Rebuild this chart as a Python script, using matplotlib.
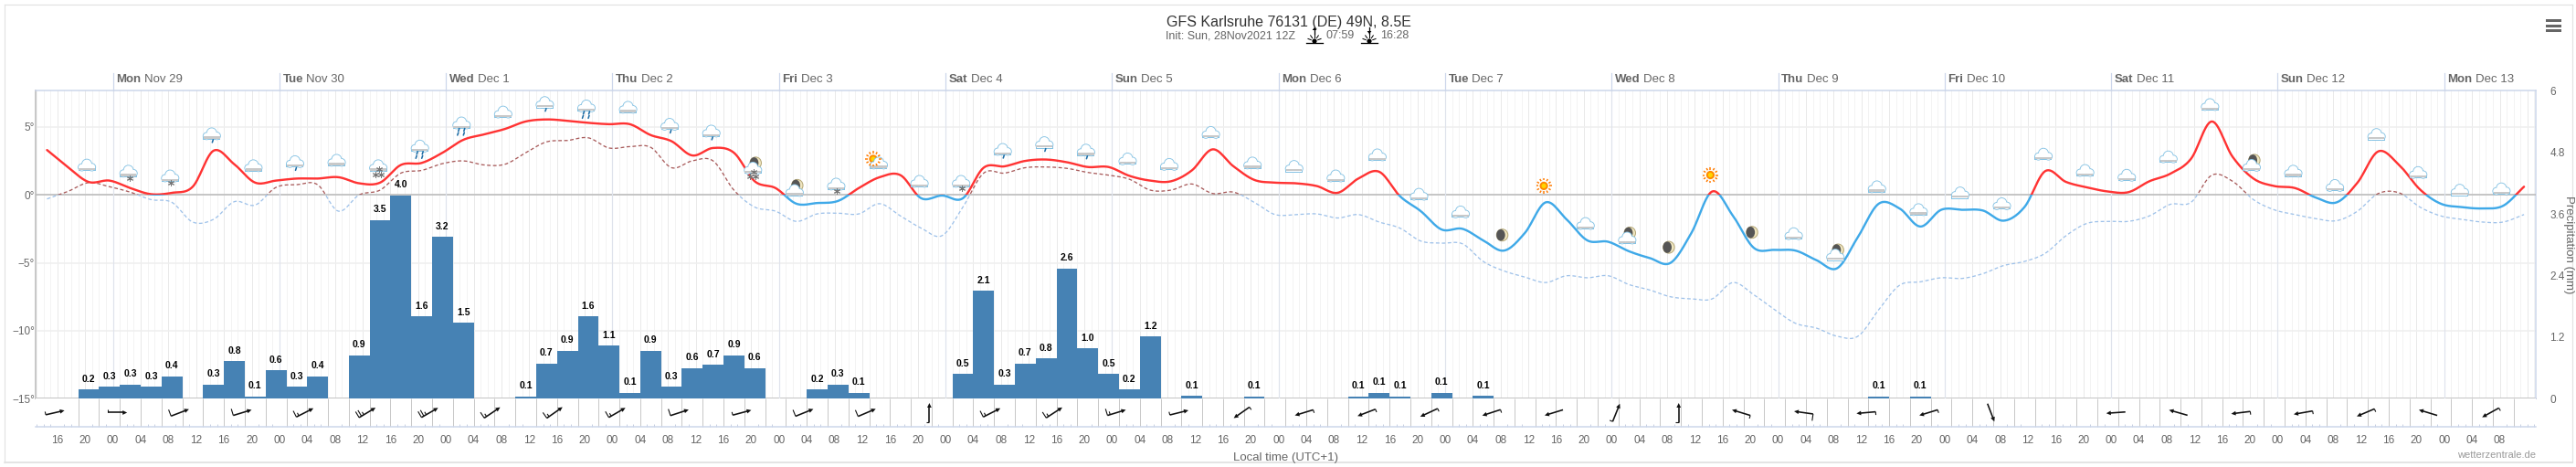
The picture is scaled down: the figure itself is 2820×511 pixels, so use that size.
import matplotlib
matplotlib.use("Agg")
import matplotlib.pyplot as plt
import numpy as np
from matplotlib.patches import Circle, Ellipse, Polygon, Rectangle

plt.rcParams["font.family"] = ["Liberation Sans Narrow", "Liberation Sans", "DejaVu Sans"]

W, H = 2820, 511

# ── data, one value every 3 hours, first one Nov 28 14:30 ─────────────────────

first_hour = -9.5  # hours relative to Mon Nov 29 00:00
step_hours = 3

temperature = [
    3.3, 2.05, 0.95, 1.05, 0.5, 0.05, 0.15, 0.6, 3.25, 2.25,
    0.9, 1.05, 1.2, 1.2, 1.3, 0.85, 0.9, 2.2, 2.35, 3.1,
    4.05, 4.45, 4.85, 5.4, 5.55, 5.45, 5.3, 5.2, 5.2, 4.4,
    3.95, 2.9, 3.45, 3.1, 1.0, 0.5, -0.65, -0.6, -0.45, 0.5,
    1.3, 1.45, -0.25, -0.05, -0.25, 2.0, 2.1, 2.5, 2.6, 2.4,
    2.05, 2.05, 1.4, 1.05, 1.0, 1.8, 3.35, 2.1, 1.1, 0.9,
    0.85, 0.65, 0.15, 1.2, 1.7, -0.1, -1.2, -2.55, -2.5, -3.35,
    -4.1, -2.8, -0.55, -1.8, -3.35, -3.45, -4.15, -4.65, -5.0, -2.8,
    0.25, -1.55, -3.9, -4.05, -4.1, -4.8, -5.4, -3.1, -0.65, -1.0,
    -2.33, -1.1, -1.1, -1.15, -1.9, -0.9, 1.75, 0.95, 0.55, 0.25,
    0.2, 1.0, 1.55, 2.65, 5.4, 2.8, 1.2, 0.65, 0.5, -0.2,
    -0.55, 0.9, 3.2, 2.2, 0.4, -0.65, -0.9, -1.0, -0.8, 0.6,
]

dew_point = [
    -0.3, 0.25, 0.9, 0.6, 0.2, -0.35, -0.55, -2.0, -1.8, -0.5,
    -0.75, 0.55, 0.75, 0.75, -1.2, 0.0, 0.35, 1.6, 1.8, 2.3,
    2.5, 2.2, 2.25, 3.1, 3.9, 4.0, 4.2, 3.45, 3.55, 3.5,
    2.0, 2.5, 2.5, 0.35, -0.9, -1.2, -1.95, -1.4, -1.35, -1.4,
    -0.65, -1.55, -2.45, -3.0, -0.9, 1.6, 1.6, 2.0, 2.05, 1.95,
    1.65, 1.45, 1.15, 0.35, 0.35, 0.8, 0.1, 0.2, -0.55, -1.45,
    -1.45, -1.4, -1.7, -1.45, -2.0, -2.45, -3.4, -3.55, -3.6, -4.9,
    -5.6, -6.05, -6.45, -5.95, -6.1, -5.95, -6.6, -7.0, -7.5, -7.65,
    -7.65, -6.45, -7.35, -8.45, -9.45, -9.8, -10.4, -10.4, -8.45, -6.65,
    -6.4, -6.1, -6.15, -5.8, -5.2, -4.9, -4.3, -3.0, -2.1, -1.95,
    -1.95, -1.55, -0.7, -0.55, 1.45, 1.0, -0.35, -1.1, -1.45, -1.75,
    -1.9, -1.2, 0.1, 0.15, -0.9, -1.55, -1.8, -2.0, -2.0, -1.45,
]

precip = [
    0, 0, .18, .23, .28, .23, .43, 0, .28, .73,
    .04, .55, .23, .43, 0, .85, 3.48, 3.96, 1.6, 3.15,
    1.48, 0, 0, .04, .68, .93, 1.6, 1.03, .11, .93,
    .23, .6, .66, .85, .6, 0, 0, .18, .28, .11,
    0, 0, 0, 0, .48, 2.1, .28, .68, .78, 2.54,
    .98, .48, .18, 1.21, 0, .05, 0, 0, .04, 0,
    0, 0, 0, .04, .11, .04, 0, .11, 0, .05,
    0, 0, 0, 0, 0, 0, 0, 0, 0, 0,
    0, 0, 0, 0, 0, 0, 0, 0, .04, 0,
    .04, 0, 0, 0, 0, 0, 0, 0, 0, 0,
    0, 0, 0, 0, 0, 0, 0, 0, 0, 0,
    0, 0, 0, 0, 0, 0, 0, 0, 0, 0,
]

precip_labels = [
    "", "", "0.2", "0.3", "0.3", "0.3", "0.4", "", "0.3", "0.8",
    "0.1", "0.6", "0.3", "0.4", "", "0.9", "3.5", "4.0", "1.6", "3.2",
    "1.5", "", "", "0.1", "0.7", "0.9", "1.6", "1.1", "0.1", "0.9",
    "0.3", "0.6", "0.7", "0.9", "0.6", "", "", "0.2", "0.3", "0.1",
    "", "", "", "", "0.5", "2.1", "0.3", "0.7", "0.8", "2.6",
    "1.0", "0.5", "0.2", "1.2", "", "0.1", "", "", "0.1", "",
    "", "", "", "0.1", "0.1", "0.1", "", "0.1", "", "0.1",
    "", "", "", "", "", "", "", "", "", "",
    "", "", "", "", "", "", "", "", "0.1", "",
    "0.1",
] + [""] * 29

# weather symbol every 6 hours, starting with the third temperature value
icons = [
    "cloud", "snow1", "snow1", "rain1", "cloud", "rain1", "cloud", "snow2", "rain2", "rain2",
    "cloud", "rain1", "rain2", "cloud", "rain1", "rain1", "moon_snow", "moon_cloud", "snow1", "sun_cloud",
    "cloud", "snow1", "rain1", "rain1", "rain1", "cloud", "cloud", "cloud", "cloud", "cloud",
    "cloud", "cloud", "cloud", "cloud", "moon", "sun", "cloud", "moon_cloud", "moon", "sun",
    "moon", "cloud", "moon_cloud", "cloud", "cloud", "cloud", "cloud", "cloud", "cloud", "cloud",
    "cloud", "cloud", "moon_cloud", "cloud", "cloud", "cloud", "cloud", "cloud", "cloud",
]

# wind arrow every 9 hours: heading in degrees (0 = east, 90 = north), half feathers
wind_heading = [
    13, 0, 21, 17, 27, 31, 30, 34, 35, 30,
    18, 15, 22, 23, 90, 27, 33, 17, 14, 215,
    197, 201, 205, 198, 197, 68, 90, 163, 172, 185,
    197, -69, np.nan, 184, 164, 187, 190, 203, 163, 209,
]
wind_feathers = [
    1, 1, 2, 2, 3, 5, 5, 3, 3, 3,
    2, 1, 2, 2, 1, 3, 3, 3, 1, 1,
    1, 1, 1, 1, 0, 1, 1, 1, 2, 1,
    1, 0, 0, 0, 0, 1, 1, 1, 0, 1,
]

days = ["Mon", "Tue", "Wed", "Thu", "Fri", "Sat", "Sun",
        "Mon", "Tue", "Wed", "Thu", "Fri", "Sat", "Sun", "Mon"]
dates = ["Nov 29", "Nov 30", "Dec 1", "Dec 2", "Dec 3", "Dec 4", "Dec 5",
         "Dec 6", "Dec 7", "Dec 8", "Dec 9", "Dec 10", "Dec 11", "Dec 12", "Dec 13"]

temp_ticks = [-15, -10, -5, 0, 5]
precip_ticks = [0, 1.2, 2.4, 3.6, 4.8, 6]

# ── colours ───────────────────────────────────────────────────────────────────

RED = "#ff3333"
BLUE = "#3fa9e8"
DEW_RED = "#a85a5a"
DEW_BLUE = "#9fc2ea"
BAR = "#4682b4"
AXIS_BLUE = "#ccd6eb"
GREY_TXT = "#666666"


def px(v):
    return v * 0.72  # figure is saved at 100 dpi


def smooth(x, y, n=14):
    # spline through the values, the way the original chart joins its points
    x = np.asarray(x, float)
    y = np.asarray(y, float)
    slope = np.gradient(y)
    t = np.linspace(0, 1, n, endpoint=False)[:, None]
    h00 = 2 * t**3 - 3 * t**2 + 1
    h10 = t**3 - 2 * t**2 + t
    h01 = -2 * t**3 + 3 * t**2
    h11 = t**3 - t**2
    xs = x[:-1] + t * np.diff(x)
    ys = h00 * y[:-1] + h10 * slope[:-1] + h01 * y[1:] + h11 * slope[1:]
    return np.r_[xs.T.ravel(), x[-1]], np.r_[ys.T.ravel(), y[-1]]


# ── layout ────────────────────────────────────────────────────────────────────

fig = plt.figure(figsize=(W / 100, H / 100), dpi=100, facecolor="white")

LEFT, RIGHT, TOP, MID, BOTTOM = 39.3, 2776, 99.3, 436.3, 466.7
X0, X1 = -11.1, 349.2
T_TOP = 22.66 - 15


def box(top, bottom):
    return [LEFT / W, 1 - bottom / H, (RIGHT - LEFT) / W, (bottom - top) / H]


ax = fig.add_axes(box(TOP, MID))
ax_precip = ax.twinx()
ax_temp = ax.twinx()
ax_wind = fig.add_axes(box(MID, BOTTOM))
ax_top = fig.add_axes([0, 0, 1, 1])  # pixel space for symbols and page furniture

ax.set_zorder(1)
ax_precip.set_zorder(2)
ax_temp.set_zorder(3)
ax_wind.set_zorder(2)
ax_top.set_zorder(5)
for a in (ax_precip, ax_temp, ax_top):
    a.patch.set_visible(False)

ax_top.set_xlim(0, W)
ax_top.set_ylim(H, 0)
ax_top.axis("off")

hours = first_hour + step_hours * np.arange(len(temperature))
day_hours = 24 * np.arange(len(days))

# ── background grid and axes ──────────────────────────────────────────────────

ax.set_xlim(X0, X1)
ax.set_ylim(-15, T_TOP)
ax.set_xticks(np.arange(-11, 350), minor=True)
ax.set_xticks(np.arange(-8, 349, 4))
ax.tick_params(axis="x", which="both", length=0, labelbottom=False)
ax.grid(axis="x", which="minor", color="#f3f3f3", lw=px(1))
ax.grid(axis="x", which="major", color="#e9e9e9", lw=px(1))
ax.grid(axis="y", which="major", color="#efefef", lw=px(1.5))
ax.set_yticks(temp_ticks)
ax.set_yticklabels([f"{t}°".replace("-", "−") for t in temp_ticks], color=GREY_TXT, fontsize=8.5)
ax.tick_params(axis="y", length=0, pad=1)
ax.set_axisbelow(True)
for s in ("top", "right", "bottom", "left"):
    ax.spines[s].set_visible(False)
ax.axvline(X0, color="#c8c8c8", lw=px(2), clip_on=False)
ax.axhline(15 * -1, color="#c4c4c4", lw=px(2), clip_on=False)
ax.axhline(T_TOP, color=AXIS_BLUE, lw=px(1.5), clip_on=False)
ax.axvline(X1, color=AXIS_BLUE, lw=px(1.5), clip_on=False)
ax.axhline(0, color="#b8b8b8", lw=px(1.5))

for d, day, date in zip(day_hours, days, dates):
    ax.plot([d, d], [0, 1], color="#dfe3ec", lw=px(1.2), transform=ax.get_xaxis_transform())
    ax.plot([d, d], [1, 1 + 19 / (MID - TOP)], color=AXIS_BLUE, lw=px(1.2),
            transform=ax.get_xaxis_transform(), clip_on=False)
    label = ax.annotate(day, xy=(d, 1), xycoords=ax.get_xaxis_transform(), xytext=(2.5, 8.5),
                        textcoords="offset points", va="center", ha="left",
                        fontsize=9.5, fontweight="bold", color=GREY_TXT, annotation_clip=False)
    ax.annotate(date, xy=(1, 0.5), xycoords=label, xytext=(2.5, 0), textcoords="offset points",
                va="center", ha="left", fontsize=9.5, color=GREY_TXT, annotation_clip=False)

# ── precipitation bars ────────────────────────────────────────────────────────

ax_precip.set_xlim(X0, X1)
ax_precip.set_ylim(0, 6)
ax_precip.bar(hours, precip, width=step_hours, color=BAR, linewidth=0)
ax_precip.set_yticks(precip_ticks)
ax_precip.set_yticklabels([f"{t:g}" for t in precip_ticks], color=GREY_TXT, fontsize=8.5)
ax_precip.tick_params(axis="y", length=0, pad=11)
for s in ax_precip.spines.values():
    s.set_visible(False)
for h, v, lab in zip(hours, precip, precip_labels):
    if lab:
        ax_precip.annotate(lab, xy=(h, v), xytext=(0, 8.4), textcoords="offset points",
                           ha="center", va="center", fontsize=7.5, fontweight="bold", color="black")

# ── temperature and dew point ─────────────────────────────────────────────────

ax_temp.set_xlim(X0, X1)
ax_temp.set_ylim(-15, T_TOP)
ax_temp.axis("off")


def split_line(values, warm, cold, lw, ls):
    xs, ys = smooth(hours, values)
    warm_part = Rectangle((X0, 0), X1 - X0, T_TOP, transform=ax_temp.transData)
    cold_part = Rectangle((X0, -15), X1 - X0, 15, transform=ax_temp.transData)
    line, = ax_temp.plot(xs, ys, color=warm, lw=lw, ls=ls, solid_capstyle="round")
    line.set_clip_path(warm_part)
    line, = ax_temp.plot(xs, ys, color=cold, lw=lw, ls=ls, solid_capstyle="round")
    line.set_clip_path(cold_part)


split_line(dew_point, DEW_RED, DEW_BLUE, px(1.3), (0, (3, 2)))
split_line(temperature, RED, BLUE, px(2.4), "-")

# ── wind strip ────────────────────────────────────────────────────────────────

ax_wind.set_xlim(X0, X1)
ax_wind.set_ylim(0, 1)
ax_wind.set_yticks([])
ax_wind.set_xticks(np.arange(-11, 350), minor=True)
tick_hours = np.arange(-8, 345, 4)
ax_wind.set_xticks(tick_hours)
ax_wind.set_xticklabels([f"{h % 24:02d}" for h in tick_hours], color=GREY_TXT, fontsize=8.5)
ax_wind.tick_params(axis="x", which="major", length=0, pad=7)
ax_wind.tick_params(axis="x", which="minor", length=2, width=px(1), direction="in", color="#c8d0e0")
for s in ("top", "right", "left"):
    ax_wind.spines[s].set_visible(False)
ax_wind.spines["bottom"].set_color(AXIS_BLUE)
ax_wind.spines["bottom"].set_linewidth(px(1.5))
ax_wind.vlines(hours[2:] - step_hours / 2, 0, 1, color="#c8c8c8", lw=px(1))


def to_px(axes, x, y):
    xp, yp = axes.transData.transform((x, y))
    return xp, H - yp


def draw_wind(hx, heading, feathers):
    if np.isnan(heading):
        return
    cx, cy = to_px(ax_wind, hx, 0.5)
    ang = np.radians(heading)
    ux, uy = np.cos(ang), -np.sin(ang)
    nx, ny = uy, -ux  # left of the heading on screen
    half = 10.5
    tx, ty = cx - ux * half, cy - uy * half
    hx2, hy2 = cx + ux * half, cy + uy * half
    ax_top.plot([tx, hx2 - ux * 3], [ty, hy2 - uy * 3], color="#111111", lw=px(1.6), solid_capstyle="butt")
    ax_top.add_patch(Polygon([(hx2, hy2),
                              (hx2 - ux * 5 + nx * 2.4, hy2 - uy * 5 + ny * 2.4),
                              (hx2 - ux * 5 - nx * 2.4, hy2 - uy * 5 - ny * 2.4)], color="#111111", lw=0))
    left = feathers
    pos = 0.0
    while left > 0:
        length = 7.5 if left >= 2 else 3.5
        bx, by = tx + ux * pos, ty + uy * pos
        ax_top.plot([bx, bx + nx * length], [by, by + ny * length], color="#111111", lw=px(1.1),
                    solid_capstyle="butt")
        left -= 2
        pos += 3


wind_x = -8.33 + 9 * np.arange(len(wind_heading))
for hx, heading, n in zip(wind_x, wind_heading, wind_feathers):
    draw_wind(hx, heading, n)

# ── weather symbols ───────────────────────────────────────────────────────────


def cloud(cx, cy):
    parts = [(-5.5, 2, 3.5), (0, -1.5, 5), (5.5, 1.8, 3.7)]
    for dx, dy, r in parts:
        ax_top.add_patch(Circle((cx + dx, cy + dy), r + 0.9, color="#86c3e4", lw=0))
    ax_top.add_patch(Rectangle((cx - 9.5, cy + 1.5), 19, 4.5, color="#86c3e4", lw=0))
    for dx, dy, r in parts:
        ax_top.add_patch(Circle((cx + dx, cy + dy), r, color="white", lw=0))
    ax_top.add_patch(Rectangle((cx - 8.5, cy + 1.5), 17, 3.5, color="white", lw=0))
    ax_top.add_patch(Rectangle((cx - 8.8, cy + 2.6), 17.6, 2.2, color="#c9c9c9", lw=0))


def rain(cx, cy, heavy):
    spots = [(1, 5)] if not heavy else [(-3, 4.5), (3, 4.5), (-4, 9), (2.5, 9)]
    for dx, dy in spots:
        ax_top.plot([cx + dx + 0.6, cx + dx - 0.4], [cy + dy + 1, cy + dy + 4], color="#1f6ea6",
                    lw=px(1.6), solid_capstyle="round")


def snow(cx, cy, heavy):
    spots = [(1, 7)] if not heavy else [(1, 3.5), (-3.5, 9), (2.5, 9)]
    for dx, dy in spots:
        ax_top.plot(cx + dx, cy + dy, marker=(6, 2, 0), ms=5, mew=px(1), color="#777777")


def moon(cx, cy):
    ax_top.add_patch(Ellipse((cx, cy), 12.5, 13, fc="#f0e6c0", ec="#b5a878", lw=px(1)))
    ax_top.add_patch(Ellipse((cx - 1.6, cy), 9.5, 12.5, color="#555555", lw=0))


def sun(cx, cy):
    for a in np.radians(np.arange(0, 360, 30)):
        ax_top.plot([cx + 6 * np.cos(a), cx + 8.6 * np.cos(a)], [cy + 6 * np.sin(a), cy + 8.6 * np.sin(a)],
                    color="#ff7b00", lw=px(1.5), solid_capstyle="butt")
    ax_top.add_patch(Circle((cx, cy), 4.6, color="#ff8a00", lw=0))
    ax_top.add_patch(Circle((cx, cy), 2.6, color="#ffd400", lw=0))


def draw_icon(kind, x, y):
    x -= 2
    if kind == "moon":
        moon(x, y + 1)
    elif kind == "sun":
        sun(x, y)
    elif kind == "sun_cloud":
        sun(x - 5, y - 2)
        cloud(x + 1, y + 3)
    elif kind.startswith("moon_"):
        moon(x + 3, y - 2)
        cloud(x, y + 4)
        if kind == "moon_snow":
            snow(x, y + 4, True)
    else:
        cloud(x, y)
        if kind == "rain1":
            rain(x, y, False)
        elif kind == "rain2":
            rain(x, y, True)
        elif kind == "snow1":
            snow(x, y, False)
        elif kind == "snow2":
            snow(x, y, True)


for i, kind in enumerate(icons):
    k = 2 + 2 * i
    xp, yp = to_px(ax_temp, hours[k], temperature[k])
    draw_icon(kind, xp, yp - 18)

# ── title block and page furniture ────────────────────────────────────────────

ax_top.text(1411, 24, "GFS Karlsruhe 76131 (DE) 49N, 8.5E", ha="center", va="center", fontsize=11.5,
            color="#333333")
ax_top.text(1276, 39, "Init: Sun, 28Nov2021 12Z", ha="left", va="center", fontsize=9, color=GREY_TXT)
ax_top.text(1452, 39, "07:59", ha="left", va="center", fontsize=9, color=GREY_TXT)
ax_top.text(1511.5, 39, "16:28", ha="left", va="center", fontsize=9, color=GREY_TXT)


def sun_mark(cx, up):
    ax_top.plot([cx - 9, cx + 9], [47.5, 47.5], color="black", lw=px(1.3))
    for a in np.radians([-160, -125, -90, -55, -20]):
        ax_top.plot([cx + 4 * np.cos(a), cx + 7.5 * np.cos(a)], [45 + 4 * np.sin(a), 45 + 7.5 * np.sin(a)],
                    color="black", lw=px(1))
    ax_top.add_patch(Circle((cx, 45), 2.6, color="black", lw=0))
    tip = 30 if up else 37
    ax_top.plot([cx, cx], [30, 37], color="black", lw=px(1.3))
    ax_top.add_patch(Polygon([(cx, tip), (cx - 2.4, tip + (3 if up else -3)), (cx + 2.4, tip + (3 if up else -3))],
                             color="black", lw=0))


sun_mark(1439, True)
sun_mark(1499, False)

ax_top.text(1408, 501, "Local time (UTC+1)", ha="center", va="center", fontsize=9.5, color=GREY_TXT)
ax_top.text(2776, 498, "wetterzentrale.de", ha="right", va="center", fontsize=8, color="#999999")
ax_top.text(2812, 267.5, "Precipitation (mm)", ha="center", va="center", rotation=-90, fontsize=9.5,
            color=GREY_TXT)

for y in (23, 28.5, 34):
    ax_top.add_patch(Rectangle((2786.5, y - 1.5), 17, 3, color="#666666", lw=0))

ax_top.plot([5, 2816], [5.5, 5.5], color="#e2e2e2", lw=px(1.2))
ax_top.plot([5, 2816], [506, 506], color="#dcdcdc", lw=px(1.5))
ax_top.plot([5, 5], [5.5, 506], color="#e2e2e2", lw=px(1.2))
ax_top.plot([2816, 2816], [5.5, 506], color="#e2e2e2", lw=px(1.2))

fig.savefig("out.png", dpi=100)
